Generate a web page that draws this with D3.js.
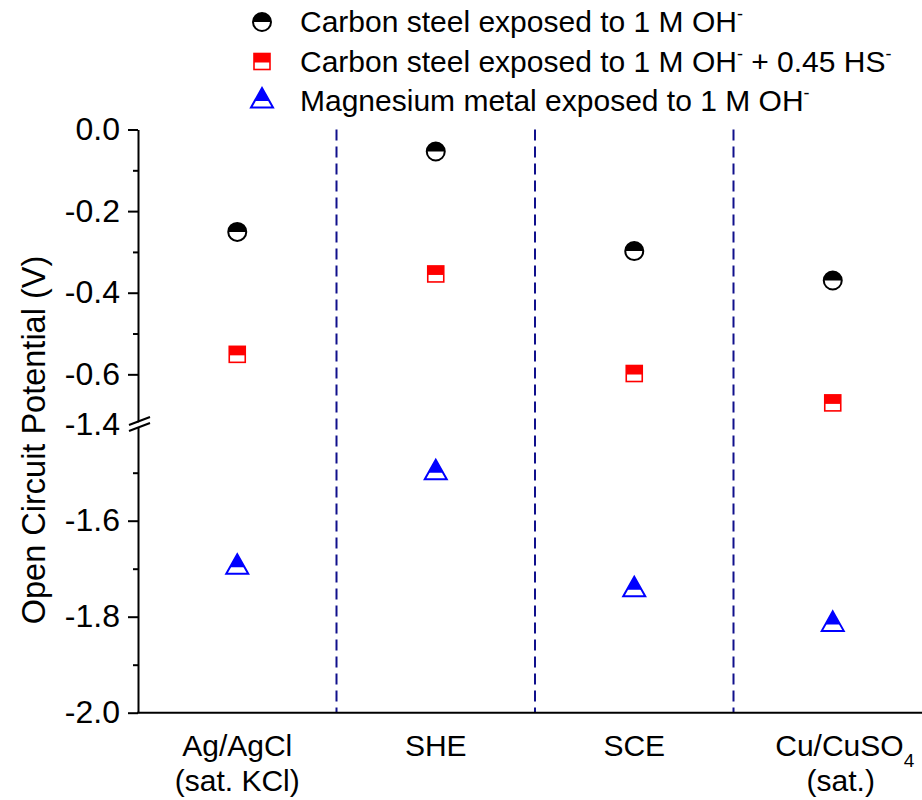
<!DOCTYPE html>
<html>
<head>
<meta charset="utf-8">
<script src="https://cdn.jsdelivr.net/npm/d3@7"></script>
<style>
body { margin: 0; background: #fff; }
svg { display: block; font-family: Arial, "Liberation Sans", sans-serif; }
</style>
</head>
<body>
<svg id="chart"></svg>
<script>
const width = 922;
const height = 800;

// data
const electrodes = ["Ag/AgCl", "SHE", "SCE", "Cu/CuSO4"];
const steelOH = [-0.251, -0.054, -0.298, -0.370];
const steelOHHS = [-0.551, -0.354, -0.598, -0.670];
const magnesiumOH = [-1.697, -1.500, -1.744, -1.816];
const upperTicks = [0, -0.2, -0.4, -0.6];
const upperMinor = [-0.1, -0.3, -0.5];
const lowerTicks = [-1.4, -1.6, -1.8, -2.0];
const lowerMinor = [-1.5, -1.7, -1.9];

const svg = d3.select('#chart')
    .attr('width', width).attr('height', height);

const left = 138, right = 932;
const x = d3.scaleBand().domain(electrodes).range([left, right]);
const yUp = d3.scaleLinear().domain([0, -0.72]).range([129.5, 423.3]);
const yLow = d3.scaleLinear().domain([-1.4, -2.0]).range([424.7, 712.7]);
const y = v => v > -1 ? yUp(v) : yLow(v);
const cx = d => x(d) + x.bandwidth() / 2;

// dashed separators
svg.append('g').selectAll('line')
    .data(electrodes.slice(1))
    .enter().append('line')
    .attr('x1', d => x(d)).attr('x2', d => x(d))
    .attr('y1', yUp(0)).attr('y2', yLow(-2.0))
    .attr('stroke', '#10108c')
    .attr('stroke-width', 2)
    .attr('stroke-dasharray', '11,6');

// axes
function yAxis(scale, major, minor) {
    const g = svg.append('g').attr('transform', `translate(${left},0)`);
    const maj = g.append('g').call(d3.axisLeft(scale).tickValues(major).tickSize(10)
        .tickSizeOuter(0).tickFormat(d3.format('.1f')));
    g.append('g').call(d3.axisLeft(scale).tickValues(minor).tickSize(5)
        .tickSizeOuter(0).tickFormat(''))
        .select('.domain').remove();
    g.selectAll('.domain, line').attr('stroke', '#000').attr('stroke-width', 2);
    maj.selectAll('text')
        .attr('font-size', 32).attr('fill', '#000')
        .attr('font-family', 'Arial, "Liberation Sans", sans-serif')
        .attr('x', -18)
        .text(d => d3.format('.1f')(d).replace('−', '-'));
    return g;
}
yAxis(yUp, upperTicks, upperMinor);
const lowAxis = yAxis(yLow, lowerTicks, lowerMinor);
lowAxis.selectAll('.tick').filter(d => d === -1.4).select('line').remove();

// bottom axis line
svg.append('line')
    .attr('x1', left - 1).attr('x2', right)
    .attr('y1', yLow(-2.0)).attr('y2', yLow(-2.0))
    .attr('stroke', '#000').attr('stroke-width', 2);

// axis break
const by = (yUp(-0.72) + yLow(-1.4)) / 2;
svg.append('path')
    .attr('d', `M${left - 9},${by + 2} L${left + 12},${by - 6} L${left + 12},${by - 1} L${left - 9},${by + 7} Z`)
    .attr('fill', '#fff');
svg.append('path')
    .attr('d', `M${left - 9},${by + 1} L${left + 12},${by - 7} M${left - 9},${by + 7} L${left + 12},${by - 1}`)
    .attr('stroke', '#000').attr('stroke-width', 2).attr('fill', 'none');

// y axis title
svg.append('text')
    .attr('transform', `translate(45,440) rotate(-90)`)
    .attr('text-anchor', 'middle')
    .attr('font-size', 32.5)
    .text('Open Circuit Potential (V)');

// category labels
const cat = svg.append('g').attr('font-size', 30).attr('text-anchor', 'middle');
cat.selectAll('text.l1')
    .data(electrodes)
    .enter().append('text')
    .attr('class', 'l1')
    .attr('x', d => cx(d) + (d === 'Cu/CuSO4' ? 12 : 0))
    .attr('y', 756)
    .each(function (d) {
        const t = d3.select(this);
        if (d === 'Cu/CuSO4') {
            t.append('tspan').text('Cu/CuSO');
            t.append('tspan').attr('font-size', 19).attr('dy', 11).text('4');
        } else {
            t.text(d);
        }
    });
const second = { 'Ag/AgCl': '(sat. KCl)', 'Cu/CuSO4': '(sat.)' };
cat.selectAll('text.l2')
    .data(electrodes.filter(d => second[d]))
    .enter().append('text')
    .attr('class', 'l2')
    .attr('x', d => cx(d) + (d === 'Cu/CuSO4' ? 8 : 0))
    .attr('y', 791)
    .text(d => second[d]);

// markers
function circleMark(g) {
    g.append('circle').attr('r', 9).attr('fill', '#fff')
        .attr('stroke', '#000').attr('stroke-width', 2);
    g.append('path').attr('d', 'M-9,0 A9,9 0 0 1 9,0 Z').attr('fill', '#000');
}
function squareMark(g) {
    g.append('rect').attr('x', -8).attr('y', -8).attr('width', 16).attr('height', 16)
        .attr('fill', '#fff').attr('stroke', '#ff0000').attr('stroke-width', 1.6);
    g.append('rect').attr('x', -8).attr('y', -8).attr('width', 16).attr('height', 9)
        .attr('fill', '#ff0000');
}
function triangleMark(g) {
    g.append('path').attr('d', 'M0,-13 L11,6.5 L-11,6.5 Z')
        .attr('fill', '#fff').attr('stroke', '#0000ff').attr('stroke-width', 2)
        .attr('stroke-linejoin', 'miter');
    g.append('path').attr('d', 'M0,-13 L7.3,0 L-7.3,0 Z').attr('fill', '#0000ff');
}

const series = [
    { values: steelOH, mark: circleMark },
    { values: steelOHHS, mark: squareMark },
    { values: magnesiumOH, mark: triangleMark }
];
series.forEach(s => {
    svg.append('g').selectAll('g')
        .data(electrodes.map((e, i) => ({ e, v: s.values[i] })))
        .enter().append('g')
        .attr('transform', d => `translate(${cx(d.e)},${y(d.v)})`)
        .each(function () { s.mark(d3.select(this)); });
});

// legend
const legendItems = [
    { mark: circleMark, parts: [['Carbon steel exposed to 1 M OH'], ['-', 'sup']] },
    { mark: squareMark, parts: [['Carbon steel exposed to 1 M OH'], ['-', 'sup'], [' + 0.45 HS'], ['-', 'sup']] },
    { mark: triangleMark, parts: [['Magnesium metal exposed to 1 M OH'], ['-', 'sup']] }
];
const legend = svg.append('g');
legendItems.forEach((item, i) => {
    const row = legend.append('g').attr('transform', `translate(262,${22 + i * 39.5})`);
    item.mark(row.append('g'));
    const t = row.append('text').attr('x', 38).attr('y', 10).attr('font-size', 30);
    item.parts.forEach(p => {
        const ts = t.append('tspan').text(p[0]);
        if (p[1] === 'sup') {
            ts.attr('font-size', 18).attr('dy', -12);
        } else if (t.selectAll('tspan').size() > 1) {
            ts.attr('dy', 12);
        }
    });
});
</script>
</body>
</html>
